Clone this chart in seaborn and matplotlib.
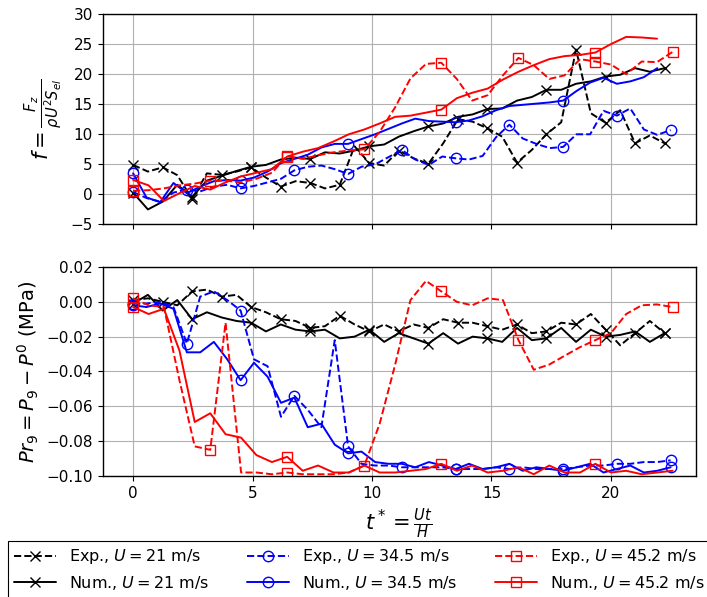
import matplotlib
matplotlib.use("Agg")
import matplotlib.pyplot as plt
import seaborn as sns

# ----- DATA -----
# time grids t* = Ut/H, one per flow speed
t_21 = [0.0, 0.62, 1.24, 1.85, 2.47, 3.09, 3.71, 4.33, 4.94, 5.56, 6.18, 6.8, 7.42,
        8.03, 8.65, 9.27, 9.89, 10.51, 11.12, 11.74, 12.36, 12.98, 13.6, 14.21, 14.83,
        15.45, 16.07, 16.69, 17.3, 17.92, 18.54, 19.16, 19.78, 20.39, 21.01, 21.63, 22.25]
t_34 = [0.0, 0.56, 1.13, 1.69, 2.25, 2.81, 3.38, 3.94, 4.5, 5.06, 5.63, 6.19, 6.75,
        7.31, 7.88, 8.44, 9.0, 9.56, 10.13, 10.69, 11.25, 11.81, 12.38, 12.94, 13.5,
        14.06, 14.63, 15.19, 15.75, 16.31, 16.88, 17.44, 18.0, 18.56, 19.13, 19.69,
        20.25, 20.81, 21.38, 21.94, 22.5]
t_45 = [0.0, 0.65, 1.29, 1.94, 2.58, 3.23, 3.87, 4.52, 5.16, 5.81, 6.45, 7.1, 7.74,
        8.39, 9.03, 9.68, 10.32, 10.97, 11.61, 12.26, 12.9, 13.55, 14.19, 14.84, 15.48,
        16.13, 16.77, 17.42, 18.06, 18.71, 19.35, 20.0, 20.64, 21.29, 21.93, 22.58]

# lift coefficient f (top panel)
f_exp_21 = [4.9, 3.8, 4.5, 3.2, -0.75, 3.5, 3.25, 3.8, 4.5, 2.8, 1.3, 2.2, 1.9, 1.0,
            1.6, 8.0, 5.2, 4.8, 7.3, 6.0, 5.1, 8.5, 12.5, 12.1, 11.0, 9.6, 5.3, 7.4,
            10.0, 12.0, 24.1, 13.5, 11.9, 14.0, 8.5, 9.8, 8.5]
f_num_21 = [0.3, -2.5, -1.2, 1.6, -0.4, 2.3, 3.1, 3.9, 4.6, 4.9, 5.8, 6.1, 5.9, 7.0,
            6.8, 7.3, 8.0, 8.3, 9.6, 10.5, 11.3, 11.8, 12.9, 13.3, 14.2, 14.3, 15.6,
            16.2, 17.4, 17.4, 18.4, 18.8, 19.6, 19.9, 21.0, 20.4, 21.0]
f_exp_34 = [0.4, -0.6, -1.2, 0.3, 0.8, 0.5, 1.3, 1.6, 1.0, 1.4, 2.0, 2.6, 4.0, 4.6,
            4.8, 4.2, 3.4, 4.6, 5.0, 6.2, 7.4, 5.8, 4.9, 6.3, 6.0, 5.8, 6.4, 9.5, 11.6,
            9.3, 8.4, 7.7, 7.9, 10.0, 10.0, 13.9, 13.1, 14.3, 10.8, 9.9, 10.7]
f_num_34 = [3.5, -0.5, -1.3, 1.9, 0.2, 1.3, 2.2, 2.4, 2.3, 2.8, 3.8, 5.2, 5.9, 6.6,
            7.8, 8.4, 8.4, 9.2, 10.0, 10.9, 11.8, 12.6, 12.2, 12.1, 12.0, 12.3, 13.0,
            14.0, 14.7, 14.9, 15.1, 15.3, 15.6, 17.2, 18.6, 19.4, 18.4, 18.8, 19.5, 21.0]
f_exp_45 = [0.6, 0.7, 1.0, 1.5, 1.8, 2.3, 2.3, 2.0, 2.6, 3.6, 6.4, 5.9, 6.5, 7.0, 7.3,
            7.5, 10.4, 14.5, 19.3, 21.7, 21.9, 19.2, 15.6, 16.5, 19.8, 22.7, 21.5, 19.2,
            19.8, 22.5, 22.1, 21.6, 20.0, 22.1, 22.0, 23.7]
f_num_45 = [2.4, 1.5, -1.1, 0.2, 1.4, 0.8, 2.0, 3.0, 3.6, 4.2, 6.3, 7.1, 7.7, 8.8, 10.0,
            10.8, 11.8, 12.9, 13.1, 13.6, 14.1, 16.0, 16.9, 17.6, 19.1, 20.4, 21.5, 22.5,
            23.0, 23.2, 23.6, 25.0, 26.2, 26.1, 25.9]

# pressure difference Pr9 in MPa (bottom panel)
p_exp_21 = [0.001, 0.002, 0.0, -0.002, 0.006, 0.007, 0.003, 0.004, -0.003, -0.006,
            -0.010, -0.011, -0.015, -0.014, -0.008, -0.013, -0.017, -0.013, -0.017,
            -0.013, -0.015, -0.010, -0.012, -0.012, -0.014, -0.016, -0.013, -0.018,
            -0.017, -0.012, -0.013, -0.007, -0.016, -0.025, -0.018, -0.011, -0.018]
p_num_21 = [-0.001, 0.004, -0.005, 0.001, -0.010, -0.006, -0.009, -0.011, -0.012,
            -0.017, -0.013, -0.016, -0.017, -0.016, -0.021, -0.020, -0.016, -0.023,
            -0.018, -0.021, -0.024, -0.018, -0.024, -0.020, -0.021, -0.023, -0.015,
            -0.022, -0.021, -0.015, -0.023, -0.016, -0.020, -0.019, -0.017, -0.023, -0.018]
p_exp_34 = [-0.001, -0.001, 0.0, -0.003, -0.024, 0.003, 0.006, 0.001, -0.005, -0.033,
            -0.037, -0.066, -0.054, -0.062, -0.072, -0.022, -0.083, -0.093, -0.094,
            -0.094, -0.095, -0.095, -0.095, -0.095, -0.096, -0.096, -0.096, -0.095,
            -0.096, -0.095, -0.096, -0.096, -0.096, -0.095, -0.094, -0.094, -0.093,
            -0.093, -0.092, -0.092, -0.091]
p_num_34 = [-0.002, -0.003, -0.001, -0.004, -0.029, -0.029, -0.023, -0.033, -0.045,
            -0.035, -0.043, -0.058, -0.055, -0.072, -0.070, -0.082, -0.087, -0.086,
            -0.092, -0.093, -0.093, -0.095, -0.092, -0.094, -0.096, -0.093, -0.096,
            -0.095, -0.093, -0.097, -0.095, -0.096, -0.097, -0.095, -0.093, -0.098,
            -0.096, -0.094, -0.098, -0.097, -0.095]
p_exp_45 = [0.002, -0.002, -0.003, -0.045, -0.083, -0.085, -0.012, -0.098, -0.098,
            -0.099, -0.098, -0.099, -0.099, -0.099, -0.098, -0.094, -0.070, -0.036,
            0.001, 0.012, 0.006, 0.0, -0.002, 0.002, 0.001, -0.022, -0.039, -0.036,
            -0.031, -0.026, -0.022, -0.018, -0.007, -0.002, -0.0015, -0.003]
p_num_45 = [-0.003, -0.007, -0.004, -0.028, -0.069, -0.064, -0.076, -0.078, -0.088,
            -0.092, -0.089, -0.097, -0.094, -0.098, -0.098, -0.094, -0.098, -0.098,
            -0.097, -0.096, -0.093, -0.097, -0.094, -0.098, -0.097, -0.095, -0.099,
            -0.094, -0.098, -0.098, -0.093, -0.098, -0.097, -0.099, -0.098, -0.097]

labels = [r"Exp., $U = 21$ m/s", r"Num., $U = 21$ m/s",
          r"Exp., $U = 34.5$ m/s", r"Num., $U = 34.5$ m/s",
          r"Exp., $U = 45.2$ m/s", r"Num., $U = 45.2$ m/s"]

# (label, colour, linestyle, marker, markevery, t, f, p)
series = [
    (labels[0], "black", "--", "x", 2, t_21, f_exp_21, p_exp_21),
    (labels[1], "black", "-", "x", 4, t_21, f_num_21, p_num_21),
    (labels[2], "blue", "--", "o", 4, t_34, f_exp_34, p_exp_34),
    (labels[3], "blue", "-", "o", 8, t_34, f_num_34, p_num_34),
    (labels[4], "red", "--", "s", 5, t_45, f_exp_45, p_exp_45),
    (labels[5], "red", "-", "s", 10, t_45, f_num_45, p_num_45),
]

# ----- STYLE -----
sns.set_style("ticks", {"axes.edgecolor": "black", "grid.color": "#b0b0b0",
                        "xtick.color": "black", "ytick.color": "black",
                        "text.color": "black", "axes.labelcolor": "black"})
plt.rcParams['font.family'] = ['DejaVu Sans']
plt.rcParams['mathtext.fontset'] = 'dejavusans'

fig = plt.figure(figsize=(7.07, 5.97), dpi=100)
ax1 = fig.add_axes([0.145, 0.624, 0.8394, 0.3525])
ax2 = fig.add_axes([0.145, 0.2027, 0.8394, 0.3501])

# ----- PLOTTING -----
for lab, col, ls, mk, me, t, f, p in series:
    for ax, y in ((ax1, f), (ax2, p)):
        sns.lineplot(x=t[:len(y)], y=y, ax=ax, color=col, linestyle=ls, marker=mk,
                     markevery=me, markersize=7.5, mfc="none", mec=col, mew=1.0,
                     lw=1.4, label=lab, estimator=None, sort=False)

for ax in (ax1, ax2):
    if ax.get_legend() is not None:
        ax.get_legend().remove()
    ax.set_xlim(-1.28, 23.56)
    ax.set_xticks([0, 5, 10, 15, 20])
    ax.grid(True, color="#b0b0b0", lw=0.8)
    ax.tick_params(labelsize=11, direction="out", length=3.5, width=0.8)
    for s in ax.spines.values():
        s.set_linewidth(1.0)

ax1.set_ylim(-5, 30)
ax1.set_yticks([-5, 0, 5, 10, 15, 20, 25, 30])
ax1.tick_params(labelbottom=False)
ax1.set_ylabel(r"$f = \frac{F_z}{\rho U^2 S_{el}}$", fontsize=15)

ax2.set_ylim(-0.1, 0.02)
ax2.set_yticks([-0.10, -0.08, -0.06, -0.04, -0.02, 0.00, 0.02])
ax2.set_ylabel(r"$Pr_9 = P_9 - P^0$ (MPa)", fontsize=14)
ax2.set_xlabel(r"$t^* = \frac{Ut}{H}$", fontsize=15)

# ----- LEGEND -----
handles, labs = ax2.get_legend_handles_labels()
leg = fig.legend(handles, labs, loc="upper left", bbox_to_anchor=(0.0113, 0.0938),
                 ncol=3, frameon=True, fancybox=False, edgecolor="black",
                 fontsize=11.5, handlelength=2.6, columnspacing=2.4,
                 labelspacing=0.45, borderaxespad=0, framealpha=1)
leg.get_frame().set_linewidth(0.8)

fig.savefig("out.png", dpi=100)
